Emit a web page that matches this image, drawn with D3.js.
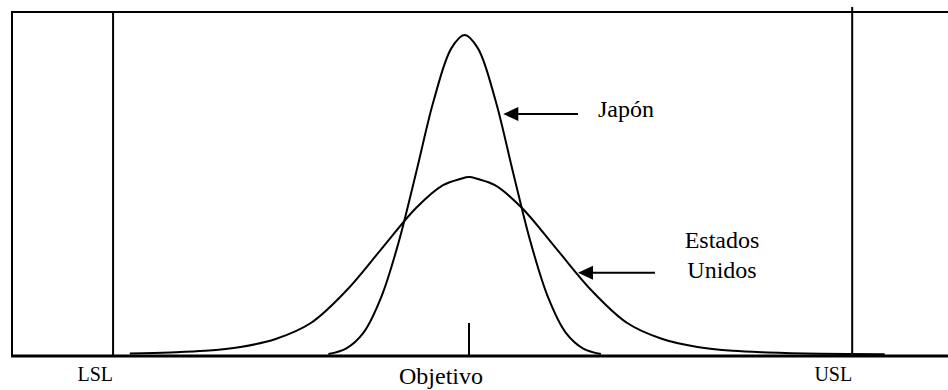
<!DOCTYPE html>
<html>
<head>
    <meta charset="utf-8">
    <title>Japón vs Estados Unidos</title>
    <script src="https://d3js.org/d3.v7.min.js"></script>
    <style>
        html, body { margin: 0; padding: 0; background: white; }
        text { font-family: "Liberation Serif", "Times New Roman", serif; fill: black; }
    </style>
</head>
<body>
<div id="chart"></div>
<script>
    // Curve readings (x in std units of the US process, y relative to Japan peak)
    const japanX = [-1.6, -1.4, -1.2, -1.0, -0.8, -0.6, -0.4, -0.2, -0.05, 0.1, 0.3, 0.5, 0.7, 0.9, 1.1, 1.3, 1.5];
    const japanY = [0.003, 0.02, 0.07, 0.18, 0.353, 0.572, 0.797, 0.959, 1.0, 0.959, 0.797, 0.572, 0.353, 0.18, 0.07, 0.02, 0.003];

    const usaX = [-3.86, -3.4, -3.0, -2.6, -2.2, -1.8, -1.4, -1.0, -0.6, -0.3, -0.1, 0, 0.1, 0.3, 0.6, 1.0, 1.4, 1.8, 2.2, 2.6, 3.0, 3.4, 4.0, 4.73];
    const usaY = [0.005, 0.008, 0.013, 0.025, 0.05, 0.1, 0.2, 0.33, 0.46, 0.53, 0.55, 0.556, 0.55, 0.53, 0.46, 0.33, 0.2, 0.1, 0.05, 0.025, 0.013, 0.008, 0.004, 0.002];

    const limitNames = ["LSL", "USL"];
    const limitValues = [-4.05, 4.36];
    const targetName = "Objetivo";
    const targetValue = 0;

    const width = 948, height = 390;

    const svg = d3.select("#chart").append("svg")
        .attr("width", width)
        .attr("height", height);

    const xScale = d3.scaleLinear().domain([-5.2, 5.45]).range([12, 948]);
    const yScale = d3.scaleLinear().domain([0, 1]).range([355, 35]);

    const baseY = 356;

    // frame: left and top edges
    svg.append("line").attr("x1", 12).attr("x2", 12).attr("y1", 11).attr("y2", baseY)
        .attr("stroke", "black").attr("stroke-width", 2);
    svg.append("line").attr("x1", 11).attr("x2", width).attr("y1", 12).attr("y2", 12)
        .attr("stroke", "black").attr("stroke-width", 2);

    // baseline axis
    svg.append("line").attr("x1", 11).attr("x2", width).attr("y1", baseY).attr("y2", baseY)
        .attr("stroke", "black").attr("stroke-width", 3);

    // spec limits
    limitValues.forEach((v, i) => {
        svg.append("line")
            .attr("x1", xScale(v)).attr("x2", xScale(v))
            .attr("y1", i === 0 ? 12 : 7).attr("y2", baseY)
            .attr("stroke", "black").attr("stroke-width", 2);
        svg.append("text")
            .attr("x", xScale(v))
            .attr("y", 381)
            .attr("text-anchor", "end")
            .style("font-size", "20px")
            .text(limitNames[i]);
    });

    // target tick
    svg.append("line")
        .attr("x1", xScale(targetValue)).attr("x2", xScale(targetValue))
        .attr("y1", 323).attr("y2", baseY)
        .attr("stroke", "black").attr("stroke-width", 2);
    svg.append("text")
        .attr("x", 399)
        .attr("y", 384)
        .style("font-size", "24px")
        .text(targetName);

    // curves
    const line = d3.line()
        .x(d => xScale(d[0]))
        .y(d => yScale(d[1]))
        .curve(d3.curveCatmullRom.alpha(0.5));

    [[japanX, japanY], [usaX, usaY]].forEach(([xs, ys]) => {
        svg.append("path")
            .datum(xs.map((x, i) => [x, ys[i]]))
            .attr("fill", "none")
            .attr("stroke", "black")
            .attr("stroke-width", 2)
            .attr("d", line);
    });

    // arrows + labels
    const arrows = [
        { tip: [0.39, 0.753], end: 578 },
        { tip: [1.24, 0.257], end: 655 }
    ];
    arrows.forEach(a => {
        const tx = xScale(a.tip[0]), ty = yScale(a.tip[1]);
        svg.append("line")
            .attr("x1", tx + 12).attr("x2", a.end)
            .attr("y1", ty).attr("y2", ty)
            .attr("stroke", "black").attr("stroke-width", 2);
        svg.append("path")
            .attr("d", `M${tx},${ty} L${tx + 15},${ty - 7} L${tx + 15},${ty + 7} Z`)
            .attr("fill", "black");
    });

    svg.append("text").attr("x", 598).attr("y", 117)
        .style("font-size", "24px").text("Japón");

    const us = svg.append("text").attr("text-anchor", "middle").style("font-size", "24px");
    us.append("tspan").attr("x", 722).attr("y", 248).text("Estados");
    us.append("tspan").attr("x", 722).attr("y", 278).text("Unidos");
</script>
</body>
</html>
